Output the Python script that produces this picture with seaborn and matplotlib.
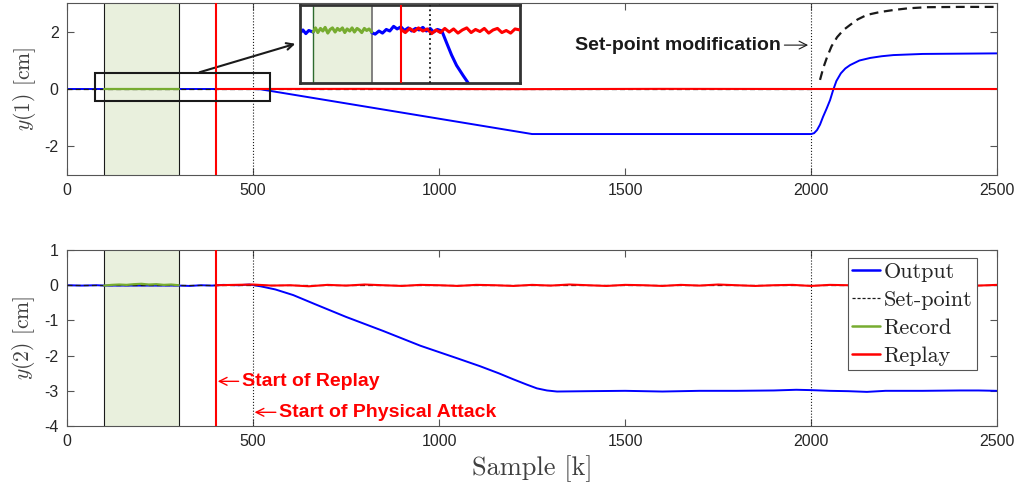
import matplotlib
matplotlib.use("Agg")
import matplotlib.pyplot as plt
import seaborn as sns
from matplotlib.patches import Rectangle
from matplotlib.lines import Line2D

# ---- data ----
# top panel, y(1)
top_out_k = [0, 100, 300, 400, 500, 520, 1250, 2000, 2008, 2016, 2024, 2032, 2042,
             2051, 2059, 2068, 2080, 2092, 2105, 2130, 2159, 2190, 2221, 2260, 2300,
             2400, 2500]
top_out_y = [0, 0, 0, 0, 0, -0.01, -1.58, -1.58, -1.55, -1.44, -1.25, -0.98, -0.68,
             -0.39, -0.05, 0.28, 0.55, 0.72, 0.84, 1.0, 1.09, 1.15, 1.19, 1.21, 1.23,
             1.24, 1.25]
top_sp_k = [0, 2000]
top_sp_y = [0, 0]
top_sp2_k = [2024, 2033, 2043, 2055, 2070, 2087, 2105, 2125, 2150, 2185, 2221, 2260,
             2311, 2400, 2500]
top_sp2_y = [0.32, 0.75, 1.12, 1.5, 1.82, 2.07, 2.25, 2.44, 2.6, 2.7, 2.77, 2.83,
             2.87, 2.88, 2.88]
top_rec_k = [100, 300]
top_rec_y = [0, 0]
top_rep_k = [400, 800, 1200, 1600, 2000, 2500]
top_rep_y = [0, 0.005, -0.005, 0.005, 0, 0]

# bottom panel, y(2)
bot_out_k = [0, 40, 80, 100, 300, 330, 360, 390, 420, 460, 490, 520, 560, 608, 667,
             750, 850, 950, 1050, 1110, 1160, 1199, 1235, 1263, 1290, 1317, 1400,
             1500, 1600, 1700, 1800, 1900, 1960, 2000, 2050, 2100, 2150, 2200, 2300,
             2400, 2450, 2500]
bot_out_y = [0.0, -0.01, 0.0, -0.01, -0.01, -0.02, 0.0, -0.01, 0.01, 0.0, 0.02,
             -0.03, -0.12, -0.28, -0.54, -0.9, -1.3, -1.72, -2.08, -2.30, -2.50,
             -2.67, -2.82, -2.93, -2.99, -3.02, -3.01, -3.0, -3.02, -3.0, -3.0,
             -2.99, -2.97, -2.98, -3.0, -3.01, -3.03, -3.0, -3.0, -2.99, -2.99, -3.0]
bot_sp_k = [0, 2500]
bot_sp_y = [0, 0]
bot_rec_k = [100, 120, 140, 160, 180, 200, 220, 240, 260, 280, 300]
bot_rec_y = [-0.01, 0.01, 0.02, 0.01, 0.03, 0.04, 0.02, 0.03, 0.01, 0.02, 0.0]
bot_rep_k = [400, 450, 500, 550, 600, 650, 700, 750, 800, 850, 900, 950, 1000, 1050,
             1100, 1150, 1200, 1250, 1300, 1350, 1400, 1450, 1500, 1550, 1600, 1650,
             1700, 1750, 1800, 1850, 1900, 1950, 2000, 2050, 2100, 2150, 2200, 2250,
             2300, 2350, 2400, 2450, 2500]
bot_rep_y = [0.0, 0.01, 0.02, -0.01, 0.0, -0.03, 0.01, -0.01, 0.02, 0.0, -0.02, 0.01,
             0.0, -0.02, 0.01, 0.0, -0.02, 0.01, -0.01, 0.02, 0.0, -0.02, 0.01, 0.0,
             -0.02, 0.01, -0.01, 0.02, 0.0, -0.02, 0.0, 0.01, -0.02, 0.01, 0.0,
             -0.03, 0.01, -0.01, 0.0, 0.02, 0.0, -0.01, 0.01]

# zoomed inset of y(1)
ins_out1_k = [55, 65, 75, 85, 100]
ins_out1_y = [-0.008, 0.004, -0.01, 0.002, -0.004]
ins_rec_k = [100, 108, 116, 125, 133, 141, 150, 158, 166, 175, 183, 191, 200, 208,
             216, 225, 233, 241, 250, 258, 266, 275, 283, 291, 300]
ins_rec_y = [-0.004, 0.012, -0.006, 0.01, 0.0, 0.014, -0.008, 0.006, 0.012, -0.004,
             0.01, 0.002, 0.012, -0.006, 0.008, 0.0, 0.012, -0.004, 0.01, 0.004,
             -0.006, 0.01, 0.002, 0.008, -0.004]
ins_out2_k = [300, 312, 325, 337, 350, 362, 375, 387, 400, 412, 425, 437, 450, 462,
              475, 487, 500, 512, 525, 540, 556, 573, 590, 613, 630]
ins_out2_y = [-0.006, -0.012, 0.0, -0.008, 0.006, 0.0, 0.018, 0.008, 0.016, 0.002,
              0.012, 0.0, 0.01, 0.004, 0.014, 0.0, 0.01, -0.004, 0.006, 0.0, -0.045,
              -0.092, -0.132, -0.172, -0.2]
ins_rep_k = [400, 415, 430, 445, 460, 475, 490, 505, 520, 535, 550, 565, 580, 595,
             610, 625, 640, 655, 670, 685, 700, 715, 730, 745, 760, 775, 790, 807]
ins_rep_y = [0.006, -0.006, 0.01, -0.002, 0.012, 0.0, 0.008, -0.01, 0.004, -0.006,
             0.01, -0.004, 0.008, -0.008, 0.004, 0.012, -0.006, 0.006, -0.002, 0.01,
             -0.008, 0.004, 0.01, -0.006, 0.002, -0.008, 0.008, 0.004]

# events
rec_start, rec_end = 100, 300
replay_start = 400
attack_start = 500
sp_change = 2000

BLUE = "#0000FF"
RED = "#FF0000"
GREEN = "#77AC30"
SHADE = "#E9F0DD"

sns.set_theme(style="ticks")
plt.rcParams["font.family"] = ["Liberation Sans", "DejaVu Sans"]
plt.rcParams["mathtext.fontset"] = "cm"
plt.rcParams["axes.unicode_minus"] = False
plt.rcParams["axes.edgecolor"] = "#555555"
plt.rcParams["axes.linewidth"] = 0.8
plt.rcParams["xtick.color"] = "#555555"
plt.rcParams["ytick.color"] = "#555555"
plt.rcParams["xtick.labelcolor"] = "#262626"
plt.rcParams["ytick.labelcolor"] = "#262626"

fig = plt.figure(figsize=(10.19, 4.92), dpi=100)
ax1 = fig.add_axes([0.0658, 0.6453, 0.9127, 0.3476])
ax2 = fig.add_axes([0.0658, 0.1341, 0.9127, 0.3577])


def events(ax):
    ax.axvspan(rec_start, rec_end, color=SHADE, lw=0, zorder=0)
    ax.axvline(rec_start, color="k", lw=0.8, zorder=1)
    ax.axvline(rec_end, color="k", lw=0.8, zorder=1)
    ax.axvline(attack_start, color="k", lw=0.8, ls=":", zorder=1)
    ax.axvline(sp_change, color="k", lw=0.8, ls=":", zorder=1)


def traces(ax, out, sps, rec, rep):
    sns.lineplot(x=out[0], y=out[1], ax=ax, color=BLUE, lw=1.4, sort=False, zorder=2)
    for k, y, lw in sps:
        sns.lineplot(x=k, y=y, ax=ax, color="k", lw=lw, sort=False,
                     ls=(0, (4, 2.5)), zorder=3)
    sns.lineplot(x=rec[0], y=rec[1], ax=ax, color=GREEN, lw=1.6, sort=False, zorder=4)
    sns.lineplot(x=rep[0], y=rep[1], ax=ax, color=RED, lw=1.5, sort=False, zorder=5)
    ax.axvline(replay_start, color=RED, lw=1.5, zorder=6)


def style(ax, yticks, ylim, label):
    ax.set_xlim(0, 2500)
    ax.set_ylim(*ylim)
    ax.set_xticks([0, 500, 1000, 1500, 2000, 2500])
    ax.set_yticks(yticks)
    ax.tick_params(direction="in", length=5, width=0.8, top=True, right=True,
                   labelsize=11.5, pad=6)
    ax.set_xlabel("")
    ax.set_ylabel(label, family="cmr10", fontsize=15.5, color="#404040", labelpad=5)
    for s in ax.spines.values():
        s.set_visible(True)


# top panel
events(ax1)
traces(ax1, (top_out_k, top_out_y),
       [(top_sp_k, top_sp_y, 0.9), (top_sp2_k, top_sp2_y, 1.6)],
       (top_rec_k, top_rec_y), (top_rep_k, top_rep_y))
style(ax1, [-2, 0, 2], (-3, 3), r"$y(1)$ [cm]")
ax1.add_patch(Rectangle((75, -0.42), 471, 0.98, fill=False, ec="k", lw=1.5, zorder=7))
ax1.annotate("", xy=(0.2924, 0.9126), xycoords="figure fraction",
             xytext=(349, 0.56), textcoords="data",
             arrowprops=dict(arrowstyle="->", color="k", lw=1.5))
ax1.annotate("Set-point modification", xy=(1992, 1.54), xytext=(1366, 1.54),
             fontsize=14, fontweight="bold", color="k", va="center", ha="left",
             arrowprops=dict(arrowstyle="->", color="k", lw=0.8, shrinkA=0, shrinkB=0))

# inset
axi = fig.add_axes([0.2944, 0.8313, 0.2159, 0.1585])
axi.axvspan(rec_start, rec_end, color=SHADE, lw=0, zorder=0)
axi.axvline(rec_start, color="#2E6B2E", lw=1.0, zorder=1)
axi.axvline(rec_end, color="#777777", lw=1.3, zorder=1)
axi.axvline(replay_start, color=RED, lw=1.5, zorder=6)
axi.axvline(attack_start, color="k", lw=1.3, ls=":", zorder=6)
sns.lineplot(x=ins_out1_k, y=ins_out1_y, ax=axi, color=BLUE, lw=2.2, sort=False, zorder=2)
sns.lineplot(x=ins_out2_k, y=ins_out2_y, ax=axi, color=BLUE, lw=2.2, sort=False, zorder=2)
sns.lineplot(x=ins_rec_k, y=ins_rec_y, ax=axi, color=GREEN, lw=2.2, sort=False, zorder=4)
sns.lineplot(x=ins_rep_k, y=ins_rep_y, ax=axi, color=RED, lw=2.2, sort=False, zorder=5)
axi.set_xlim(55, 807)
axi.set_ylim(-0.2, 0.1)
axi.set_xticks([])
axi.set_yticks([])
axi.set_xlabel("")
axi.set_ylabel("")
for s in axi.spines.values():
    s.set_visible(True)
    s.set_linewidth(2)
    s.set_edgecolor("#333333")

# bottom panel
events(ax2)
traces(ax2, (bot_out_k, bot_out_y), [(bot_sp_k, bot_sp_y, 0.9)],
       (bot_rec_k, bot_rec_y), (bot_rep_k, bot_rep_y))
style(ax2, [1, 0, -1, -2, -3, -4], (-4, 1), r"$y(2)$ [cm]")
ax2.set_xlabel("Sample [k]", family="cmr10", fontsize=19, color="#404040", labelpad=4)

ax2.annotate("Start of Replay", xy=(405, -2.73), xytext=(470, -2.73),
             color=RED, fontsize=14, fontweight="bold", va="center", ha="left",
             arrowprops=dict(arrowstyle="->", color=RED, lw=1, shrinkA=0, shrinkB=0))
ax2.annotate("Start of Physical Attack", xy=(504, -3.61), xytext=(570, -3.61),
             color=RED, fontsize=14, fontweight="bold", va="center", ha="left",
             arrowprops=dict(arrowstyle="->", color=RED, lw=1, shrinkA=0, shrinkB=0))

handles = [Line2D([], [], color=BLUE, lw=1.8),
           Line2D([], [], color="k", lw=0.9, ls=(0, (2.5, 1.5))),
           Line2D([], [], color=GREEN, lw=1.8),
           Line2D([], [], color=RED, lw=1.8)]
leg = ax2.legend(handles, ["Output", "Set-point", "Record", "Replay"],
                 loc="upper right", bbox_to_anchor=(0.978, 0.955),
                 prop={"family": "cmr10", "size": 16}, frameon=True, fancybox=False,
                 handlelength=1.25, handletextpad=0.15, borderpad=0.2,
                 labelspacing=0.38, borderaxespad=0, framealpha=1)
leg.get_frame().set_edgecolor("#555555")
leg.get_frame().set_linewidth(0.8)

fig.savefig("out.png", dpi=100)
